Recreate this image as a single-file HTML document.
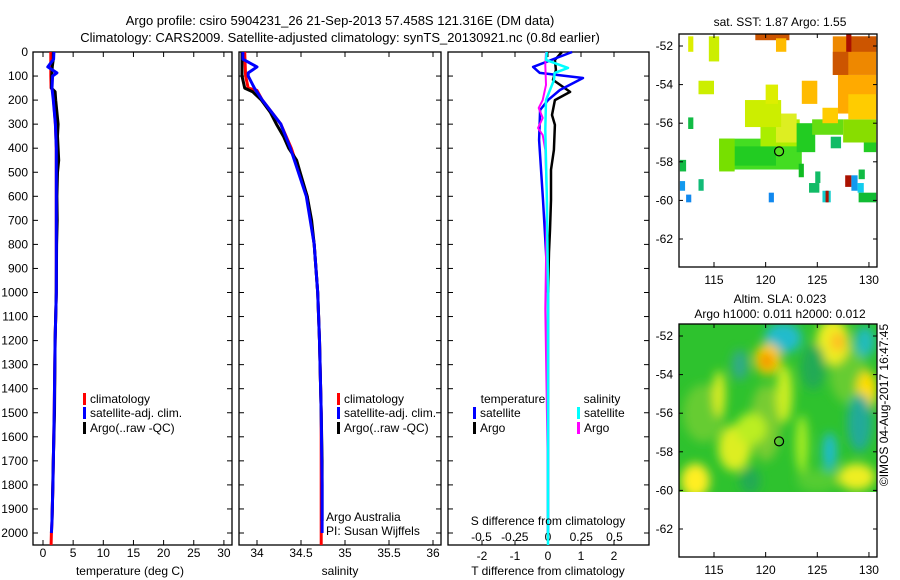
<!DOCTYPE html>
<html><head><meta charset="utf-8"><style>
body{margin:0;background:#fff;}
svg{display:block;font-family:"Liberation Sans",sans-serif;}
</style></head><body>
<svg id="fig" width="900" height="580" viewBox="0 0 900 580" xmlns="http://www.w3.org/2000/svg">
<defs><filter id="blur" x="-50%" y="-50%" width="200%" height="200%"><feGaussianBlur stdDeviation="5"/></filter>
<clipPath id="clip2"><rect x="679" y="324" width="198" height="168"/></clipPath></defs>
<text x="340" y="25" font-size="13" text-anchor="middle">Argo profile: csiro 5904231_26 21-Sep-2013 57.458S 121.316E (DM data)</text>
<text x="340" y="42" font-size="13" text-anchor="middle">Climatology: CARS2009. Satellite-adjusted climatology: synTS_20130921.nc (0.8d earlier)</text>
<g id="g"></g>
</svg>
<script>
// ---- data ----
const depthTicks = [0,100,200,300,400,500,600,700,800,900,1000,1100,1200,1300,1400,1500,1600,1700,1800,1900,2000];
const tempTicks = [0,5,10,15,20,25,30];
const salTicks = [34,34.5,35,35.5,36];
const tdiffTicks = [-2,-1,0,1,2];
const sdiffTicks = [-0.5,-0.25,0,0.25,0.5];
const latTicks = [-52,-54,-56,-58,-60,-62];
const lonTicks = [115,120,125,130];

const climDepth = [0,100,150,160,200,300,400,600,800,1000,1200,1500,1800,1950,2000,2050];
const climTemp  = [1.3,1.3,1.35,1.7,1.75,2.05,2.2,2.2,2.2,2.2,2.0,1.85,1.65,1.5,1.4,1.35];
const climSal   = [33.86,33.87,33.9,34.0,34.06,34.27,34.39,34.57,34.65,34.69,34.71,34.73,34.73,34.73,34.73,34.73];

const satDepth = [0,30,62,87,100,150,200,300,400,600,800,1000,1200,1500,1800,1950,2000];
const satTemp  = [1.8,1.75,0.8,2.3,1.6,1.5,1.7,2.05,2.2,2.2,2.2,2.2,2.0,1.85,1.65,1.5,1.4];
const satSal   = [33.84,33.84,34.0,33.9,33.9,33.97,34.06,34.27,34.38,34.56,34.65,34.69,34.71,34.73,34.74,34.74,34.74];

const argoDepth = [0,30,60,100,150,165,200,250,300,350,400,450,500,600,700,800,1000,1200,1500,1700,1900,1950];
const argoTemp  = [1.7,1.7,1.55,1.45,1.4,2.0,2.1,2.3,2.5,2.4,2.5,2.6,2.4,2.3,2.35,2.25,2.2,2.0,1.9,1.7,1.55,1.5];
const argoSal   = [33.83,33.83,33.83,33.83,33.86,33.95,34.05,34.15,34.22,34.3,34.36,34.45,34.49,34.57,34.62,34.65,34.69,34.71,34.73,34.74,34.74,34.74];

const tdSatDepth = [0,62,87,108,158,200,241,366,615,831,1000,2000];
const tdSat      = [0.73,-0.45,-0.25,1.06,0.36,0,-0.24,-0.27,-0.15,-0.06,0,0];
const tdArgoDepth = [0,33,75,116,166,200,262,303,407,490,615,740,831,1000];
const tdArgo      = [0.42,0.21,0.24,0.15,0.67,0.21,0.12,0.21,0.18,0.09,0.09,0.06,0.03,0];
const sdSatDepth = [0,33,66,87,116,158,200,324,615,1000,2050];
const sdSat      = [-0.01,-0.015,0.15,0.05,0.045,0.015,-0.015,-0.02,-0.008,0,0];
const sdArgoDepth = [0,54,137,200,233,274,316,345,407,615,1070,1780];
const sdArgo      = [-0.015,-0.02,-0.015,-0.04,-0.07,-0.04,-0.075,-0.04,-0.02,-0.008,-0.02,0];

// SST map patches: [lon0, lon1, lat0, lat1, color]
const sstPatches = [
 [115.5,123.5,-56.8,-58.4,"#44dd22"],[117,121,-57.2,-58.2,"#22cc22"],[115.5,117,-56.8,-58.5,"#77e000"],
 [119.5,123.3,-55.8,-57.2,"#aaee00"],[121,123,-55.5,-57,"#ddee22"],[118,121.5,-54.8,-56.2,"#ccee00"],
 [120,121.2,-54,-55,"#ddee00"],[123,124.8,-56,-57.5,"#22cc22"],[124.5,127.5,-55.8,-56.6,"#66dd11"],
 [127.5,130.7,-55.8,-57,"#88dd00"],[129.5,130.7,-57,-57.5,"#22cc22"],[126.3,127.3,-56.7,-57.3,"#11bb66"],
 [125.5,127,-55.2,-56,"#ffcc00"],[123.5,125,-53.8,-55,"#ffbb00"],[127,130.7,-53.5,-55.5,"#ffaa00"],
 [128,130.7,-54.5,-55.8,"#ffcc00"],[126.5,130.7,-51.5,-53.5,"#ee8800"],[126.5,128,-52.3,-53.5,"#cc5500"],
 [128,130.7,-51.5,-52.3,"#cc5500"],[127.8,128.3,-51.4,-52.3,"#aa1100"],[119,122.3,-51.4,-51.7,"#cc5500"],
 [121,122,-51.6,-52.3,"#ffbb00"],[114.5,115.5,-51.5,-52.8,"#ccee00"],[112.5,113,-51.5,-52.3,"#ddee00"],
 [113.5,115,-53.8,-54.5,"#ccee00"],[112.5,113,-55.7,-56.3,"#11bb44"],[111.7,112.3,-57.9,-58.5,"#11bb44"],
 [111.7,112.2,-59,-59.5,"#1199ee"],[112.3,112.8,-59.7,-60.1,"#1188ee"],[113.5,114,-58.9,-59.5,"#11bb77"],
 [120.3,120.8,-59.6,-60.1,"#1188ee"],[123.2,123.7,-58.1,-58.8,"#11bb22"],[124.2,125.2,-59.1,-59.6,"#11bb66"],
 [124.8,125.3,-58.5,-59.1,"#11bb66"],[125.5,126.3,-59.5,-60.1,"#11cccc"],[125.8,126.1,-59.5,-60.1,"#aa1100"],
 [127.7,128.3,-58.7,-59.3,"#aa1100"],[128.3,128.9,-58.7,-59.5,"#1199ee"],[128.9,129.5,-59.1,-59.6,"#11ccee"],
 [129,130.7,-59.6,-60.1,"#11bb33"],[129,129.6,-58.4,-58.9,"#11bb44"]
];
// SLA blobs: [lon, lat, rx(deg), ry(deg), color]
const slaBlobs = [
 [114,-56,2,1.5,"#66cc33"],[120,-56.5,1.5,2,"#77cc33"],[128,-54,1.8,1.5,"#66cc33"],[125,-59.5,2,0.6,"#55cc33"],
 [121.7,-51.8,1.2,0.5,"#1166ee"],[121.7,-52.1,1.8,0.8,"#22bbcc"],[120.2,-53.2,1.3,0.8,"#ffcc00"],[120.1,-53.3,0.6,0.4,"#ee8800"],
 [126.5,-52.3,1.6,1.2,"#eeee22"],[127,-52.3,0.7,0.5,"#ffbb22"],[129.6,-52.3,1.0,0.8,"#22bbbb"],[129.8,-54.8,1.0,1.0,"#ffdd00"],
 [117.5,-53.5,0.8,0.8,"#33aa88"],[115.5,-55,0.6,1.2,"#ddee22"],[121.8,-55,0.8,1.5,"#ccee22"],[117,-57.8,1.6,1.2,"#ddee22"],
 [113.2,-59.5,1.4,0.9,"#ffee22"],[128.8,-59.3,1.8,0.7,"#eeee22"],[126.2,-58,0.7,1.0,"#22bbcc"],[129.1,-56.5,1.2,1.5,"#22aa99"],
 [118.6,-56.8,1.5,0.8,"#bbee22"],[123.5,-57.6,0.6,1.5,"#aaee22"],[118.5,-59.5,1.0,0.7,"#22aa55"],[124.6,-53.6,1.2,1.2,"#22aa55"]
];

// ---- helpers ----
const NS="http://www.w3.org/2000/svg";
const G=document.getElementById('g');
function el(tag,attrs,parent){const e=document.createElementNS(NS,tag);for(const k in attrs)e.setAttribute(k,attrs[k]);(parent||G).appendChild(e);return e;}
function txt(x,y,s,size,anchor,parent){const t=el('text',{x:x,y:y,'font-size':size||12,'text-anchor':anchor||'middle'},parent);t.textContent=s;return t;}

const yD = d => 52 + d*0.2405;
const xT = v => 43 + v*6.03;
const xS = v => 257 + (v-34)*88;
const xTd = v => 548 + v*33;
const xSd = v => 548 + v*133;

function panel(x0,x1,name){
  const p=el('rect',{x:x0,y:52,width:x1-x0,height:493,fill:'none',stroke:'#000','stroke-width':1.3});
  
  
  depthTicks.forEach(d=>{el('line',{x1:x0,x2:x0+5,y1:yD(d),y2:yD(d),stroke:'#000'});el('line',{x1:x1,x2:x1-5,y1:yD(d),y2:yD(d),stroke:'#000'});});
}
function line(xs,ds,fx,color,w,name){
  const pts=xs.map((v,i)=>fx(v).toFixed(1)+','+yD(ds[i]).toFixed(1)).join(' ');
  const l=el('polyline',{points:pts,fill:'none',stroke:color,'stroke-width':w,'stroke-linejoin':'round'});
  
  
}
function legend(x,y,color,label,name){
  el('rect',{x:x,y:y-10,width:3,height:12,fill:color});
  const t=txt(x+7,y,label,12,'start');
  
  
}

// panel 1
panel(33,232,'temperature-panel');
depthTicks.forEach(d=>{const t=txt(28,yD(d)+4,String(d),12,'end');});
tempTicks.forEach(v=>{el('line',{x1:xT(v),x2:xT(v),y1:545,y2:540,stroke:'#000'});el('line',{x1:xT(v),x2:xT(v),y1:52,y2:57,stroke:'#000'});const t=txt(xT(v),557,String(v));});
line(climTemp,climDepth,xT,'#f00',3,'temp-climatology-line');
line(argoTemp,argoDepth,xT,'#000',3,'temp-argo-line');
line(satTemp,satDepth,xT,'#00f',3,'temp-satellite-line');
txt(130,575,'temperature (deg C)');
legend(83,403,'#f00','climatology','legend-climatology');
legend(83,417,'#00f','satellite-adj. clim.','legend-satellite');
legend(83,432,'#000','Argo(..raw -QC)','legend-argo');

// panel 2
panel(239,441,'salinity-panel');
salTicks.forEach(v=>{el('line',{x1:xS(v),x2:xS(v),y1:545,y2:540,stroke:'#000'});el('line',{x1:xS(v),x2:xS(v),y1:52,y2:57,stroke:'#000'});const t=txt(xS(v),557,String(v));});
line(climSal,climDepth,xS,'#f00',3,'sal-climatology-line');
line(argoSal,argoDepth,xS,'#000',3,'sal-argo-line');
line(satSal,satDepth,xS,'#00f',3,'sal-satellite-line');
txt(340,575,'salinity');
legend(337,403,'#f00','climatology','legend-climatology-2');
legend(337,417,'#00f','satellite-adj. clim.','legend-satellite-2');
legend(337,432,'#000','Argo(..raw -QC)','legend-argo-2');
txt(326,521,'Argo Australia',12,'start');
txt(326,535,'PI: Susan Wijffels',12,'start');

// panel 3
panel(448,649,'difference-panel');
tdiffTicks.forEach(v=>{el('line',{x1:xTd(v),x2:xTd(v),y1:545,y2:540,stroke:'#000'});el('line',{x1:xTd(v),x2:xTd(v),y1:52,y2:57,stroke:'#000'});const t=txt(xTd(v),560,String(v));});
sdiffTicks.forEach(v=>{const t=txt(xSd(v),541,String(v));});
line(tdArgo,tdArgoDepth,xTd,'#000',2.5,'tdiff-argo-line');
line(tdSat,tdSatDepth,xTd,'#00f',2.5,'tdiff-satellite-line');
line(sdArgo,sdArgoDepth,xSd,'#f0f',2,'sdiff-argo-line');
line(sdSat,sdSatDepth,xSd,'#0ff',2.5,'sdiff-satellite-line');
txt(548,525,'S difference from climatology');
txt(548,575,'T difference from climatology');
txt(513,403,'temperature');
txt(602,403,'salinity');
legend(473,417,'#00f','satellite','legend-t-satellite');
legend(473,432,'#000','Argo','legend-t-argo');
legend(577,417,'#0ff','satellite','legend-s-satellite');
legend(577,432,'#f0f','Argo','legend-s-argo');

// maps
const xL = lon => 714 + (lon-115)*10.33;
function mapAxes(top,y0,name){
  const r=el('rect',{x:679,y:top,width:198,height:233,fill:'none',stroke:'#000','stroke-width':1.3});
  
  
  latTicks.forEach(v=>{const y=y0+(-52-v)*19.3;el('line',{x1:679,x2:683,y1:y,y2:y,stroke:'#000'});el('line',{x1:877,x2:873,y1:y,y2:y,stroke:'#000'});const t=txt(673,y+4,String(v),12,'end');});
  lonTicks.forEach(v=>{el('line',{x1:xL(v),x2:xL(v),y1:top+233,y2:top+228,stroke:'#000'});el('line',{x1:xL(v),x2:xL(v),y1:top,y2:top+4,stroke:'#000'});const t=txt(xL(v),top+250,String(v));});
}
// map 1 (SST)
const yL1 = lat => 46 + (-52-lat)*19.3;
sstPatches.forEach(p=>{
  const r=el('rect',{x:xL(p[0]),y:yL1(p[2]),width:xL(p[1])-xL(p[0]),height:yL1(p[3])-yL1(p[2]),fill:p[4]});
  
  
});
mapAxes(34,46,'sst-map');
txt(780,26,'sat. SST: 1.87  Argo: 1.55');
el('circle',{cx:xL(121.3),cy:yL1(-57.46),r:4.5,fill:'#55dd22',stroke:'#000','stroke-width':1.2});

// map 2 (SLA)
const yL2 = lat => 336 + (-52-lat)*19.3;
const sg=el('g',{'clip-path':'url(#clip2)'});
el('rect',{x:679,y:324,width:198,height:168,fill:'#2ec22e'},sg);
const bg=el('g',{filter:'url(#blur)'},sg);
slaBlobs.forEach(b=>{
  const e=el('ellipse',{cx:xL(b[0]),cy:yL2(b[1]),rx:b[2]*10.33,ry:b[3]*19.3,fill:b[4]},bg);
  
  
});
mapAxes(324,336,'sla-map');
txt(780,303,'Altim. SLA: 0.023');
txt(780,318,'Argo h1000: 0.011 h2000: 0.012');
el('circle',{cx:xL(121.3),cy:yL2(-57.46),r:4.5,fill:'none',stroke:'#000','stroke-width':1.2});

const c=txt(0,0,'©IMOS 04-Aug-2017 16:47:45',12,'middle');
c.setAttribute('transform','translate(888,405) rotate(-90)');


</script>
</body></html>
